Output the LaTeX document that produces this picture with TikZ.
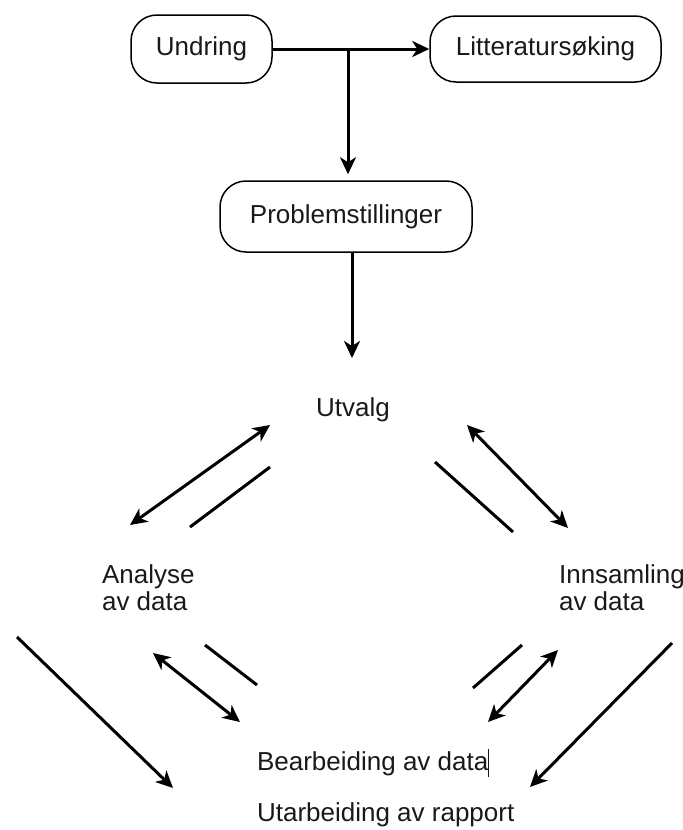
\documentclass[tikz,border=0pt]{standalone}
\usepackage{fontspec}
\setmainfont{Liberation Sans}
\usetikzlibrary{arrows.meta, positioning}
\tikzstyle{every node}=[font=\fontsize{13}{13.5}\selectfont, text=black!90]
\tikzstyle{stage}=[draw, rectangle, rounded corners=13pt, line width=0.75pt, inner sep=0pt]
\tikzstyle{flow}=[line width=1.5pt, -{Stealth[length=8.5pt, width=8pt, inset=2.5pt]}]
\tikzstyle{twoway}=[line width=1.5pt, {Stealth[length=8.5pt, width=8pt, inset=2.5pt]}-{Stealth[length=8.5pt, width=8pt, inset=2.5pt]}]
\tikzstyle{bar}=[line width=1.5pt]
\newcommand{\caret}{\rule[-0.25em]{0.5pt}{1.1em}}

\begin{document}
\begin{tikzpicture}[x=0.5pt, y=-0.5pt]
    \useasboundingbox (0,0) rectangle (682,830);
    \node[stage, minimum width=70.5pt, minimum height=34pt] (undring) at (201.5,49) {Undring};
    \node[stage, minimum width=115.5pt, minimum height=33pt, right of=undring, node distance=172pt] (litt) {Litteratursøking};
    \coordinate (fork) at (348,50);
    \node[stage, minimum width=126pt, minimum height=35.5pt] (prob) at (346,216.5) {Problemstillinger};
    \coordinate (drop) at (352,358);
    \node (utvalg) at (353,410) {Utvalg};
    \node[align=left, anchor=west] (analyse) at (95,588) {Analyse\\av data};
    \node[align=left, anchor=west] (innsamling) at (552,588) {Innsamling\\av data};
    \node[anchor=west] (bearb) at (250,763) {Bearbeiding av data\caret};
    \node[anchor=west] (rapport) at (250,815) {Utarbeiding av rapport};
    % ends of the free lines
    \coordinate (la1) at (130,525);  \coordinate (la2) at (270,425);
    \coordinate (lb1) at (190,527);  \coordinate (lb2) at (270,467);
    \coordinate (rb1) at (435,462);  \coordinate (rb2) at (513,532);
    \coordinate (ra1) at (467,425);  \coordinate (ra2) at (568,528);
    \coordinate (fl1) at (17,637);   \coordinate (fl2) at (173,788);
    \coordinate (ld1) at (153,653);  \coordinate (ld2) at (240,722);
    \coordinate (lc1) at (205,645);  \coordinate (lc2) at (257,685);
    \coordinate (rc1) at (522,645);  \coordinate (rc2) at (473,688);
    \coordinate (rd1) at (558,650);  \coordinate (rd2) at (488,722);
    \coordinate (fr1) at (672,643);  \coordinate (fr2) at (530,787);
    \draw[flow] (undring) -- (litt);
    \draw[flow, shorten >=3pt] (fork) -- (fork |- prob.north);
    \draw[flow] (prob.south -| drop) -- (drop);
    \draw[twoway] (la1) -- (la2);
    \draw[bar] (lb1) -- (lb2);
    \draw[bar] (rb1) -- (rb2);
    \draw[twoway] (ra1) -- (ra2);
    \draw[flow] (fl1) -- (fl2);
    \draw[twoway] (ld1) -- (ld2);
    \draw[bar] (lc1) -- (lc2);
    \draw[bar] (rc1) -- (rc2);
    \draw[twoway] (rd1) -- (rd2);
    \draw[flow] (fr1) -- (fr2);
\end{tikzpicture}
\end{document}
